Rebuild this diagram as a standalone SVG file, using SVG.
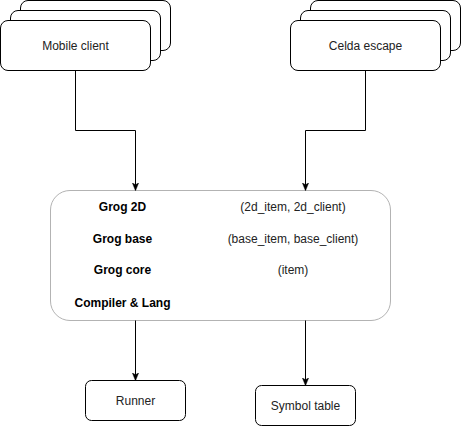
<svg xmlns="http://www.w3.org/2000/svg" width="461" height="427" viewBox="0 0 461 427">
<defs>
<style>
.box{fill:#fff;stroke:#000;stroke-width:1}
.grp{fill:#fff;stroke:#b3b3b3;stroke-width:1}
.t{font-family:"Liberation Sans",Arial,sans-serif;font-size:12px;fill:#222;text-anchor:middle}
.b{font-weight:bold;fill:#000}
.edge{fill:none;stroke:#000;stroke-width:1}
</style>
<marker id="arr" viewBox="0 0 10 10" refX="9" refY="5" markerWidth="8" markerHeight="8" markerUnits="userSpaceOnUse" orient="auto">
<path d="M0,1 L10,5 L0,9 L2.5,5 Z" fill="#000" stroke="#000" stroke-width="0.5"/>
</marker>
</defs>
<rect width="461" height="427" fill="#fff"/>
<g id="mobile-client">
<rect class="box" x="20.5" y="0.5" width="150" height="50" rx="7.5"/>
<rect class="box" x="10.5" y="10.5" width="150" height="50" rx="7.5"/>
<rect class="box" x="0.5" y="20.5" width="150" height="50" rx="7.5"/>
<text class="t" x="75.5" y="50">Mobile client</text>
</g>
<g id="celda-escape">
<rect class="box" x="310.5" y="0.5" width="150" height="50" rx="7.5"/>
<rect class="box" x="300.5" y="10.5" width="150" height="50" rx="7.5"/>
<rect class="box" x="290.5" y="20.5" width="150" height="50" rx="7.5"/>
<text class="t" x="365.5" y="50">Celda escape</text>
</g>
<g id="grog">
<rect class="grp" x="50.5" y="190.5" width="340" height="130" rx="19.5"/>
<text class="t b" x="122.5" y="211">Grog 2D</text>
<text class="t b" x="122.5" y="242.5">Grog base</text>
<text class="t b" x="122.5" y="274">Grog core</text>
<text class="t b" x="122.5" y="307">Compiler &amp; Lang</text>
<text class="t" x="293" y="211">(2d_item, 2d_client)</text>
<text class="t" x="293" y="242.5">(base_item, base_client)</text>
<text class="t" x="293" y="274">(item)</text>
</g>
<g id="runner">
<rect class="box" x="85.5" y="380.5" width="100" height="40" rx="6"/>
<text class="t" x="135.5" y="405">Runner</text>
</g>
<g id="symbol-table">
<rect class="box" x="255.5" y="385.5" width="100" height="40" rx="6"/>
<text class="t" x="305.5" y="410">Symbol table</text>
</g>
<g id="connectors">
<path class="edge" marker-end="url(#arr)" d="M75.5,70.5 V130.5 H135.5 V190"/>
<path class="edge" marker-end="url(#arr)" d="M365.5,70.5 V130.5 H305.5 V190"/>
<path class="edge" marker-end="url(#arr)" d="M135.5,320.5 V380"/>
<path class="edge" marker-end="url(#arr)" d="M305.5,320.5 V385"/>
</g>
</svg>
